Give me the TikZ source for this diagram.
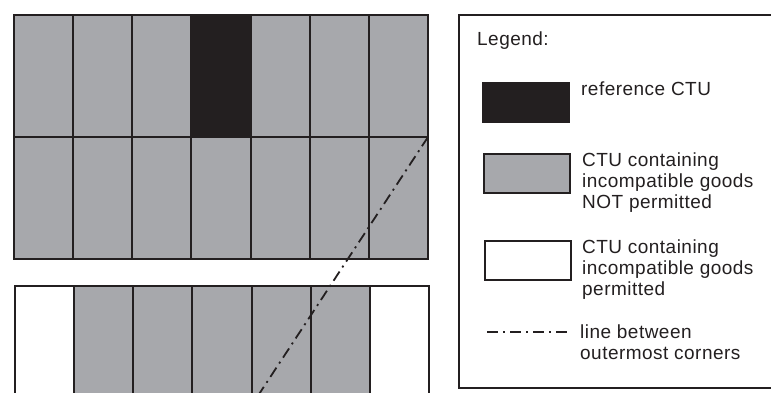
\documentclass[tikz,border=0pt]{standalone}
\usepackage{fontspec}
\setmainfont{Liberation Sans}
\newfontfamily\legfont[LetterSpace=2.5]{Liberation Sans}
\usepackage{tikz}
\usetikzlibrary{positioning}
\definecolor{ctugrey}{RGB}{167,168,172}
\definecolor{ctuink}{RGB}{35,31,32}

\begin{document}
\begin{tikzpicture}[x=1pt, y=-1pt,
  cell/.style={draw=ctuink, line width=2pt, anchor=north west, inner sep=0pt, outer sep=0pt,
               minimum width=59.14pt, minimum height=122pt},
  notok/.style={cell, fill=ctugrey},
  ok/.style={cell, fill=white},
  refctu/.style={cell, fill=ctuink},
  swatch/.style={draw=ctuink, line width=2pt, anchor=north west, inner sep=0pt,
                 minimum width=86pt, minimum height=39pt},
  legtext/.style={font=\legfont\fontsize{19}{20.9}\selectfont, align=left, inner sep=0pt, text=ctuink},
  dashdot/.style={draw=ctuink, line width=1.8pt, dash pattern=on 11pt off 5pt on 2pt off 5pt},
]
  \useasboundingbox (0,0) rectangle (771,392);
  \clip (0,0) rectangle (771,392);

  % upper stack, two tiers
  \foreach \i/\kind in {0/notok,1/notok,2/notok,3/refctu,4/notok,5/notok,6/notok} {
    \node[\kind] (upper-\i) at ({14+59.14*\i},15) {};
    \node[notok] (middle-\i) at ({14+59.14*\i},137) {};
  }

  % lower stack
  \foreach \i/\kind in {0/ok,1/notok,2/notok,3/notok,4/notok,5/notok,6/ok} {
    \node[\kind, minimum height=140pt] (lower-\i) at ({15+59.14*\i},286) {};
  }

  \coordinate (farcorner) at (248.6,410);
  \draw[dashdot] (middle-6.north east) -- (farcorner);

  % legend frame, open past the right edge
  \coordinate (frame-ne) at (790,15);
  \coordinate (frame-nw) at (459,15);
  \coordinate (frame-sw) at (459,388);
  \coordinate (frame-se) at (790,388);
  \draw[ctuink, line width=2pt] (frame-ne) -- (frame-nw) -- (frame-sw) -- (frame-se);
  \node[legtext, anchor=base west] (legtitle) at (477,45) {Legend:};

  \node[swatch, fill=ctuink] (keyref) at (482,82) {};
  \node[swatch, fill=ctugrey] (keynotok) at (483,153) {};
  \node[swatch, fill=white] (keyok) at (484,240) {};
  \coordinate (keyline-a) at (487,332);
  \coordinate (keyline-b) at (569,332);
  \draw[dashdot] (keyline-a) -- (keyline-b);

  \node[legtext, right=11pt of keyref.north east, anchor=north west] (reftext) {reference CTU};
  \node[legtext, right=11pt of keynotok.north east, anchor=north west] (notoktext)
    {CTU containing\\incompatible goods\\NOT permitted};
  \node[legtext, right=10pt of keyok.north east, anchor=north west] (oktext)
    {CTU containing\\incompatible goods\\permitted};
  \node[legtext, anchor=north west] (linetext) at (580,325)
    {line between\\outermost corners};
\end{tikzpicture}
\end{document}
